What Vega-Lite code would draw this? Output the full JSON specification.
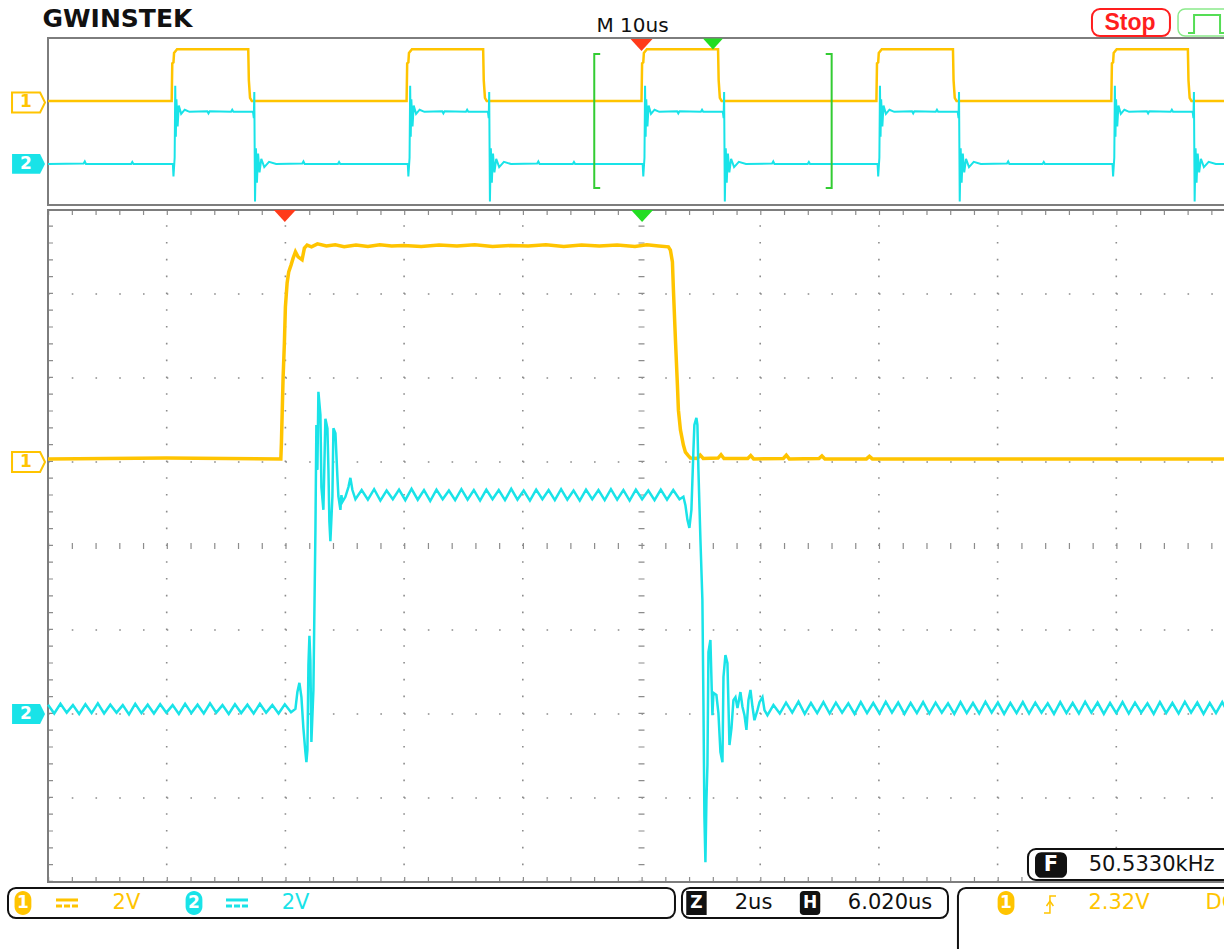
{
"$schema": "https://vega.github.io/schema/vega-lite/v6.json",
"width": 1224, "height": 949, "autosize": {"type": "none"}, "padding": 0, "background": "white",
"usermeta": {"embedOptions": {"actions": false}},
"config": {"view": {"stroke": null}},
"resolve": {"scale": {"x": "independent", "y": "independent"}},
"layer": [
{"data": {"values": [{"g":1},{"g":2},{"g":3},{"g":4},{"g":6},{"g":7},{"g":8},{"g":9}]},
 "mark": {"type": "rule", "color": "#8c8c8c", "strokeWidth": 1.6, "strokeDash": [1.6, 15.2]},
 "encoding": {"x": {"field": "g", "type": "quantitative", "scale": {"domain": [0,10], "range": [48,1235], "nice": false, "zero": false}, "axis": null},
  "y": {"datum": 0, "type": "quantitative", "scale": {"domain": [0,8], "range": [882,210], "nice": false, "zero": false}, "axis": null}, "y2": {"datum": 8}}},
{"data": {"values": [{"g":1},{"g":2},{"g":3},{"g":5},{"g":6},{"g":7}]},
 "mark": {"type": "rule", "color": "#8c8c8c", "strokeWidth": 1.6, "strokeDash": [1.6, 22.14]},
 "encoding": {"y": {"field": "g", "type": "quantitative", "scale": {"domain": [0,8], "range": [882,210], "nice": false, "zero": false}, "axis": null},
  "x": {"datum": 0, "type": "quantitative", "scale": {"domain": [0,10], "range": [48,1235], "nice": false, "zero": false}, "axis": null}, "x2": {"datum": 10}}},
{"data": {"values": [{"g":5}]},
 "mark": {"type": "rule", "color": "#8c8c8c", "strokeWidth": 6, "strokeDash": [1.2, 15.6]},
 "encoding": {"x": {"field": "g", "type": "quantitative", "scale": {"domain": [0,10], "range": [48,1235], "nice": false, "zero": false}, "axis": null},
  "y": {"datum": 0, "type": "quantitative", "scale": {"domain": [0,8], "range": [882,210], "nice": false, "zero": false}, "axis": null}, "y2": {"datum": 8}}},
{"data": {"values": [{"g":4}]},
 "mark": {"type": "rule", "color": "#8c8c8c", "strokeWidth": 6, "strokeDash": [1.2, 22.54]},
 "encoding": {"y": {"field": "g", "type": "quantitative", "scale": {"domain": [0,8], "range": [882,210], "nice": false, "zero": false}, "axis": null},
  "x": {"datum": 0, "type": "quantitative", "scale": {"domain": [0,10], "range": [48,1235], "nice": false, "zero": false}, "axis": null}, "x2": {"datum": 10}}},
{"data": {"values": [{"g":0}]},
 "mark": {"type": "rule", "color": "#8c8c8c", "strokeWidth": 5, "xOffset": 2.5, "strokeDash": [1.2, 15.6]},
 "encoding": {"x": {"field": "g", "type": "quantitative", "scale": {"domain": [0,10], "range": [48,1235], "nice": false, "zero": false}, "axis": null},
  "y": {"datum": 0, "type": "quantitative", "scale": {"domain": [0,8], "range": [882,210], "nice": false, "zero": false}, "axis": null}, "y2": {"datum": 8}}},
{"data": {"values": [{"g":8}]},
 "mark": {"type": "rule", "color": "#8c8c8c", "strokeWidth": 5, "yOffset": 2.5, "strokeDash": [1.2, 22.54]},
 "encoding": {"y": {"field": "g", "type": "quantitative", "scale": {"domain": [0,8], "range": [882,210], "nice": false, "zero": false}, "axis": null},
  "x": {"datum": 0, "type": "quantitative", "scale": {"domain": [0,10], "range": [48,1235], "nice": false, "zero": false}, "axis": null}, "x2": {"datum": 10}}},
{"data": {"values": [{"g":0}]},
 "mark": {"type": "rule", "color": "#8c8c8c", "strokeWidth": 5, "yOffset": -2.5, "strokeDash": [1.2, 22.54]},
 "encoding": {"y": {"field": "g", "type": "quantitative", "scale": {"domain": [0,8], "range": [882,210], "nice": false, "zero": false}, "axis": null},
  "x": {"datum": 0, "type": "quantitative", "scale": {"domain": [0,10], "range": [48,1235], "nice": false, "zero": false}, "axis": null}, "x2": {"datum": 10}}},
{"data": {"values": [{}]},
 "mark": {"type": "rect", "fill": "white", "fillOpacity": 0, "stroke": "#7d7d7d", "strokeWidth": 2},
 "encoding": {"x": {"datum": 0, "type": "quantitative", "scale": {"domain": [0,10], "range": [48,1235], "nice": false, "zero": false}, "axis": null}, "x2": {"datum": 10},
  "y": {"datum": 0, "type": "quantitative", "scale": {"domain": [0,8], "range": [882,210], "nice": false, "zero": false}, "axis": null}, "y2": {"datum": 8}}},
{"data": {"values": [{}]},
 "mark": {"type": "rect", "fill": "white", "fillOpacity": 0, "stroke": "#7d7d7d", "strokeWidth": 2},
 "encoding": {"x": {"datum": 0, "type": "quantitative", "scale": {"domain": [0,10], "range": [48,1235], "nice": false, "zero": false}, "axis": null}, "x2": {"datum": 10},
  "y": {"datum": 0, "type": "quantitative", "scale": {"domain": [0,8], "range": [205,38], "nice": false, "zero": false}, "axis": null}, "y2": {"datum": 8}}},
{"data": {"values": [
 {"t":-50,"v":0},
 {"t":-39.58,"v":0},{"t":-39.53,"v":3.6},{"t":-39.43,"v":3.7},{"t":-39.38,"v":4.6},{"t":-39.13,"v":4.95},{"t":-33.13,"v":4.95},{"t":-33.08,"v":2.0},{"t":-32.98,"v":0.3},{"t":-32.83,"v":0},
 {"t":-19.79,"v":0},{"t":-19.74,"v":3.6},{"t":-19.64,"v":3.7},{"t":-19.59,"v":4.6},{"t":-19.34,"v":4.95},{"t":-13.34,"v":4.95},{"t":-13.29,"v":2.0},{"t":-13.19,"v":0.3},{"t":-13.04,"v":0},
 {"t":0,"v":0},{"t":0.05,"v":3.6},{"t":0.15,"v":3.7},{"t":0.2,"v":4.6},{"t":0.45,"v":4.95},{"t":6.45,"v":4.95},{"t":6.5,"v":2.0},{"t":6.6,"v":0.3},{"t":6.75,"v":0},
 {"t":19.79,"v":0},{"t":19.84,"v":3.6},{"t":19.94,"v":3.7},{"t":19.99,"v":4.6},{"t":20.24,"v":4.95},{"t":26.24,"v":4.95},{"t":26.29,"v":2.0},{"t":26.39,"v":0.3},{"t":26.54,"v":0},
 {"t":39.58,"v":0},{"t":39.63,"v":3.6},{"t":39.73,"v":3.7},{"t":39.78,"v":4.6},{"t":40.03,"v":4.95},{"t":46.03,"v":4.95},{"t":46.08,"v":2.0},{"t":46.18,"v":0.3},{"t":46.33,"v":0},
 {"t":49.2,"v":0}]},
 "mark": {"type": "line", "color": "#FFC400", "strokeWidth": 2.5},
 "encoding": {"x": {"field": "t", "type": "quantitative", "scale": {"domain": [-50,50], "range": [48,1235], "nice": false, "zero": false}, "axis": null},
  "y": {"field": "v", "type": "quantitative", "scale": {"domain": [0,5], "range": [101,48.8], "nice": false, "zero": false}, "axis": null}}},
{"data": {"values": [
 {"t":-50,"v":0},{"t":-47,"v":0.05},{"t":-46.9,"v":0.25},{"t":-46.8,"v":0},{"t":-43,"v":0},{"t":-42.9,"v":0.2},{"t":-42.8,"v":0},
 {"t":-39.48,"v":0},{"t":-39.43,"v":-1.2},{"t":-39.33,"v":0.6},{"t":-39.28,"v":7.5},{"t":-39.23,"v":2.6},{"t":-39.18,"v":6.2},{"t":-39.08,"v":3.6},{"t":-38.98,"v":5.6},{"t":-38.78,"v":4.8},{"t":-38.48,"v":5.2},{"t":-38.08,"v":5.0},{"t":-36.58,"v":5.05},{"t":-36.48,"v":4.85},{"t":-36.38,"v":5.05},{"t":-34.58,"v":5.0},{"t":-34.48,"v":5.2},{"t":-34.38,"v":5.0},{"t":-32.73,"v":5.0},{"t":-32.66,"v":4.4},{"t":-32.62,"v":6.9},{"t":-32.56,"v":-3.6},{"t":-32.48,"v":1.5},{"t":-32.40,"v":-1.8},{"t":-32.30,"v":1.0},{"t":-32.18,"v":-0.8},{"t":-32.03,"v":0.5},{"t":-31.78,"v":-0.3},{"t":-31.38,"v":0.2},{"t":-30.78,"v":0},{"t":-28.58,"v":0.05},{"t":-28.48,"v":0.25},{"t":-28.38,"v":0},{"t":-25.58,"v":0},{"t":-25.48,"v":0.2},{"t":-25.38,"v":0},{"t":-22.08,"v":0},
 {"t":-19.69,"v":0},{"t":-19.64,"v":-1.2},{"t":-19.54,"v":0.6},{"t":-19.49,"v":7.5},{"t":-19.44,"v":2.6},{"t":-19.39,"v":6.2},{"t":-19.29,"v":3.6},{"t":-19.19,"v":5.6},{"t":-18.99,"v":4.8},{"t":-18.69,"v":5.2},{"t":-18.29,"v":5.0},{"t":-16.79,"v":5.05},{"t":-16.69,"v":4.85},{"t":-16.59,"v":5.05},{"t":-14.79,"v":5.0},{"t":-14.69,"v":5.2},{"t":-14.59,"v":5.0},{"t":-12.94,"v":5.0},{"t":-12.87,"v":4.4},{"t":-12.83,"v":6.9},{"t":-12.77,"v":-3.6},{"t":-12.69,"v":1.5},{"t":-12.61,"v":-1.8},{"t":-12.51,"v":1.0},{"t":-12.39,"v":-0.8},{"t":-12.24,"v":0.5},{"t":-11.99,"v":-0.3},{"t":-11.59,"v":0.2},{"t":-10.99,"v":0},{"t":-8.79,"v":0.05},{"t":-8.69,"v":0.25},{"t":-8.59,"v":0},{"t":-5.79,"v":0},{"t":-5.69,"v":0.2},{"t":-5.59,"v":0},{"t":-2.29,"v":0},
 {"t":0.10,"v":0},{"t":0.15,"v":-1.2},{"t":0.25,"v":0.6},{"t":0.30,"v":7.5},{"t":0.35,"v":2.6},{"t":0.40,"v":6.2},{"t":0.50,"v":3.6},{"t":0.60,"v":5.6},{"t":0.80,"v":4.8},{"t":1.10,"v":5.2},{"t":1.50,"v":5.0},{"t":3.00,"v":5.05},{"t":3.10,"v":4.85},{"t":3.20,"v":5.05},{"t":5.00,"v":5.0},{"t":5.10,"v":5.2},{"t":5.20,"v":5.0},{"t":6.85,"v":5.0},{"t":6.92,"v":4.4},{"t":6.96,"v":6.9},{"t":7.02,"v":-3.6},{"t":7.10,"v":1.5},{"t":7.18,"v":-1.8},{"t":7.28,"v":1.0},{"t":7.40,"v":-0.8},{"t":7.55,"v":0.5},{"t":7.80,"v":-0.3},{"t":8.20,"v":0.2},{"t":8.80,"v":0},{"t":11.0,"v":0.05},{"t":11.1,"v":0.25},{"t":11.2,"v":0},{"t":14.0,"v":0},{"t":14.1,"v":0.2},{"t":14.2,"v":0},{"t":17.5,"v":0},
 {"t":19.89,"v":0},{"t":19.94,"v":-1.2},{"t":20.04,"v":0.6},{"t":20.09,"v":7.5},{"t":20.14,"v":2.6},{"t":20.19,"v":6.2},{"t":20.29,"v":3.6},{"t":20.39,"v":5.6},{"t":20.59,"v":4.8},{"t":20.89,"v":5.2},{"t":21.29,"v":5.0},{"t":22.79,"v":5.05},{"t":22.89,"v":4.85},{"t":22.99,"v":5.05},{"t":24.79,"v":5.0},{"t":24.89,"v":5.2},{"t":24.99,"v":5.0},{"t":26.64,"v":5.0},{"t":26.71,"v":4.4},{"t":26.75,"v":6.9},{"t":26.81,"v":-3.6},{"t":26.89,"v":1.5},{"t":26.97,"v":-1.8},{"t":27.07,"v":1.0},{"t":27.19,"v":-0.8},{"t":27.34,"v":0.5},{"t":27.59,"v":-0.3},{"t":27.99,"v":0.2},{"t":28.59,"v":0},{"t":30.79,"v":0.05},{"t":30.89,"v":0.25},{"t":30.99,"v":0},{"t":33.79,"v":0},{"t":33.89,"v":0.2},{"t":33.99,"v":0},{"t":37.29,"v":0},
 {"t":39.68,"v":0},{"t":39.73,"v":-1.2},{"t":39.83,"v":0.6},{"t":39.88,"v":7.5},{"t":39.93,"v":2.6},{"t":39.98,"v":6.2},{"t":40.08,"v":3.6},{"t":40.18,"v":5.6},{"t":40.38,"v":4.8},{"t":40.68,"v":5.2},{"t":41.08,"v":5.0},{"t":42.58,"v":5.05},{"t":42.68,"v":4.85},{"t":42.78,"v":5.05},{"t":44.58,"v":5.0},{"t":44.68,"v":5.2},{"t":44.78,"v":5.0},{"t":46.43,"v":5.0},{"t":46.50,"v":4.4},{"t":46.54,"v":6.9},{"t":46.60,"v":-3.6},{"t":46.68,"v":1.5},{"t":46.76,"v":-1.8},{"t":46.86,"v":1.0},{"t":46.98,"v":-0.8},{"t":47.13,"v":0.5},{"t":47.38,"v":-0.3},{"t":47.78,"v":0.2},{"t":48.38,"v":0},{"t":49.2,"v":0}]},
 "mark": {"type": "line", "color": "#19E3E8", "strokeWidth": 2},
 "encoding": {"x": {"field": "t", "type": "quantitative", "scale": {"domain": [-50,50], "range": [48,1235], "nice": false, "zero": false}, "axis": null},
  "y": {"field": "v", "type": "quantitative", "scale": {"domain": [0,5], "range": [164,111.8], "nice": false, "zero": false}, "axis": null}}},
{"data": {"values": [
 {"seg":"L","o":1,"x":-3.48,"y":7.23},{"seg":"L","o":2,"x":-3.98,"y":7.23},{"seg":"L","o":3,"x":-3.98,"y":0.81},{"seg":"L","o":4,"x":-3.48,"y":0.81},
 {"seg":"R","o":1,"x":15.52,"y":7.23},{"seg":"R","o":2,"x":16.02,"y":7.23},{"seg":"R","o":3,"x":16.02,"y":0.81},{"seg":"R","o":4,"x":15.52,"y":0.81}]},
 "mark": {"type": "line", "color": "#33CC33", "strokeWidth": 2},
 "encoding": {"x": {"field": "x", "type": "quantitative", "scale": {"domain": [-50,50], "range": [48,1235], "nice": false, "zero": false}, "axis": null},
  "y": {"field": "y", "type": "quantitative", "scale": {"domain": [0,8], "range": [205,38], "nice": false, "zero": false}, "axis": null},
  "detail": {"field": "seg"}, "order": {"field": "o"}}},
{"data": {"values": [
 {"t":-3.99,"v":0.05},{"t":-2.0,"v":0.07},{"t":-0.067,"v":0.05},
 {"t":-0.057,"v":0.43},{"t":-0.029,"v":1.98},{"t":-0.007,"v":2.81},{"t":0.010,"v":3.67},{"t":0.039,"v":4.24},{"t":0.066,"v":4.50},{"t":0.106,"v":4.67},{"t":0.140,"v":4.83},{"t":0.179,"v":4.98},{"t":0.224,"v":4.86},{"t":0.291,"v":4.79},{"t":0.330,"v":5.07},{"t":0.376,"v":5.14},
 {"t":0.45,"v":5.10},{"t":0.55,"v":5.17},{"t":0.70,"v":5.12},{"t":0.85,"v":5.15},{"t":1.0,"v":5.10},{"t":1.2,"v":5.14},{"t":1.4,"v":5.11},{"t":1.6,"v":5.15},{"t":1.8,"v":5.12},{"t":2.0,"v":5.13},{"t":2.3,"v":5.11},{"t":2.6,"v":5.14},{"t":2.9,"v":5.12},{"t":3.2,"v":5.15},{"t":3.5,"v":5.11},{"t":3.8,"v":5.13},{"t":4.1,"v":5.12},{"t":4.4,"v":5.15},{"t":4.7,"v":5.11},{"t":5.0,"v":5.14},{"t":5.3,"v":5.12},{"t":5.6,"v":5.14},{"t":5.9,"v":5.11},{"t":6.1,"v":5.15},{"t":6.3,"v":5.12},{"t":6.463,"v":5.10},
 {"t":6.497,"v":5.02},{"t":6.531,"v":4.74},{"t":6.548,"v":4.07},{"t":6.582,"v":2.88},{"t":6.615,"v":1.81},{"t":6.632,"v":1.21},{"t":6.666,"v":0.74},{"t":6.716,"v":0.38},{"t":6.750,"v":0.21},{"t":6.801,"v":0.12},{"t":6.834,"v":0.07},
 {"t":6.95,"v":0.06},{"t":7.0,"v":0.14},{"t":7.05,"v":0.06},{"t":7.3,"v":0.07},{"t":7.35,"v":0.15},{"t":7.4,"v":0.06},{"t":7.8,"v":0.06},{"t":7.85,"v":0.13},{"t":7.9,"v":0.05},{"t":8.4,"v":0.06},{"t":8.45,"v":0.14},{"t":8.5,"v":0.05},{"t":9.0,"v":0.06},{"t":9.05,"v":0.12},{"t":9.1,"v":0.05},{"t":9.8,"v":0.05},{"t":9.85,"v":0.11},{"t":9.9,"v":0.05},{"t":16.02,"v":0.05}]},
 "mark": {"type": "line", "color": "#FFC400", "strokeWidth": 3.5},
 "encoding": {"x": {"field": "t", "type": "quantitative", "scale": {"domain": [-3.99,16.01], "range": [48,1235], "nice": false, "zero": false}, "axis": null},
  "y": {"field": "v", "type": "quantitative", "scale": {"domain": [0,2], "range": [461,377], "nice": false, "zero": false}, "axis": null}}},
{"data": {"values": [
 {"t":-3.99,"v":0.21},{"t":-3.885,"v":0.0},{"t":-3.78,"v":0.23},{"t":-3.675,"v":0.02},{"t":-3.57,"v":0.2},{"t":-3.465,"v":-0.01},{"t":-3.36,"v":0.22},{"t":-3.255,"v":0.01},{"t":-3.15,"v":0.24},{"t":-3.045,"v":0.0},
 {"t":-2.94,"v":0.21},{"t":-2.835,"v":0.02},{"t":-2.73,"v":0.2},{"t":-2.625,"v":-0.02},{"t":-2.52,"v":0.23},{"t":-2.415,"v":0.01},{"t":-2.31,"v":0.21},{"t":-2.205,"v":0.0},{"t":-2.1,"v":0.22},{"t":-1.995,"v":0.02},
 {"t":-1.89,"v":0.2},{"t":-1.785,"v":-0.01},{"t":-1.68,"v":0.23},{"t":-1.575,"v":0.01},{"t":-1.47,"v":0.21},{"t":-1.365,"v":0.0},{"t":-1.26,"v":0.24},{"t":-1.155,"v":0.02},{"t":-1.05,"v":0.2},{"t":-0.945,"v":-0.01},
 {"t":-0.84,"v":0.22},{"t":-0.735,"v":0.01},{"t":-0.63,"v":0.21},{"t":-0.525,"v":0.0},{"t":-0.42,"v":0.23},{"t":-0.315,"v":0.02},{"t":-0.21,"v":0.2},{"t":-0.105,"v":0.0},{"t":0.0,"v":0.22},{"t":0.105,"v":0.03},
 {"t":0.179,"v":0.11},{"t":0.212,"v":0.51},{"t":0.246,"v":0.73},{"t":0.280,"v":0.39},{"t":0.313,"v":-0.35},{"t":0.347,"v":-0.92},{"t":0.364,"v":-1.16},{"t":0.381,"v":-0.87},{"t":0.398,"v":1.16},{"t":0.415,"v":1.85},{"t":0.431,"v":1.27},{"t":0.448,"v":-0.68},{"t":0.482,"v":0.56},{"t":0.516,"v":4.37},{"t":0.532,"v":6.87},{"t":0.549,"v":5.8},{"t":0.566,"v":7.66},{"t":0.600,"v":7.11},{"t":0.617,"v":5.39},{"t":0.650,"v":4.85},{"t":0.684,"v":7.02},{"t":0.718,"v":6.79},{"t":0.735,"v":5.81},{"t":0.751,"v":4.57},{"t":0.768,"v":4.1},{"t":0.802,"v":5.17},{"t":0.819,"v":6.79},{"t":0.853,"v":6.67},{"t":0.886,"v":5.64},{"t":0.903,"v":5.17},{"t":0.937,"v":4.85},{"t":0.954,"v":5.2},{"t":0.971,"v":5.04},{"t":1.021,"v":5.16},{"t":1.072,"v":5.39},{"t":1.105,"v":5.61},{"t":1.139,"v":5.32},{"t":1.19,"v":5.1},
 {"t":1.295,"v":5.32},{"t":1.4,"v":5.09},{"t":1.505,"v":5.34},{"t":1.61,"v":5.07},{"t":1.715,"v":5.31},{"t":1.82,"v":5.1},{"t":1.925,"v":5.33},{"t":2.03,"v":5.08},{"t":2.135,"v":5.35},{"t":2.24,"v":5.09},
 {"t":2.345,"v":5.32},{"t":2.45,"v":5.06},{"t":2.555,"v":5.33},{"t":2.66,"v":5.1},{"t":2.765,"v":5.31},{"t":2.87,"v":5.08},{"t":2.975,"v":5.34},{"t":3.08,"v":5.09},{"t":3.185,"v":5.32},{"t":3.29,"v":5.07},
 {"t":3.395,"v":5.33},{"t":3.5,"v":5.1},{"t":3.605,"v":5.32},{"t":3.71,"v":5.08},{"t":3.815,"v":5.35},{"t":3.92,"v":5.09},{"t":4.025,"v":5.31},{"t":4.13,"v":5.07},{"t":4.235,"v":5.33},{"t":4.34,"v":5.1},
 {"t":4.445,"v":5.32},{"t":4.55,"v":5.08},{"t":4.655,"v":5.34},{"t":4.76,"v":5.09},{"t":4.865,"v":5.31},{"t":4.97,"v":5.07},{"t":5.075,"v":5.33},{"t":5.18,"v":5.1},{"t":5.285,"v":5.32},{"t":5.39,"v":5.08},
 {"t":5.495,"v":5.34},{"t":5.6,"v":5.09},{"t":5.705,"v":5.32},{"t":5.81,"v":5.07},{"t":5.915,"v":5.33},{"t":6.02,"v":5.1},{"t":6.125,"v":5.31},{"t":6.23,"v":5.08},{"t":6.335,"v":5.33},{"t":6.44,"v":5.09},{"t":6.545,"v":5.32},{"t":6.65,"v":5.1},
 {"t":6.716,"v":5.16},{"t":6.75,"v":4.96},{"t":6.784,"v":4.61},{"t":6.817,"v":4.42},{"t":6.851,"v":4.85},{"t":6.885,"v":6.27},{"t":6.901,"v":6.87},{"t":6.935,"v":7.04},{"t":6.952,"v":6.87},{"t":6.969,"v":5.8},{"t":7.003,"v":4.13},{"t":7.036,"v":2.7},{"t":7.053,"v":0.32},{"t":7.07,"v":-2.46},{"t":7.087,"v":-3.54},{"t":7.104,"v":-2.06},{"t":7.121,"v":-1.23},{"t":7.138,"v":1.46},{"t":7.171,"v":1.75},{"t":7.205,"v":-0.04},{"t":7.222,"v":0.49},{"t":7.272,"v":0.44},{"t":7.306,"v":0.01},{"t":7.34,"v":-0.92},{"t":7.374,"v":-1.16},{"t":7.391,"v":0.87},{"t":7.424,"v":1.39},{"t":7.458,"v":1.2},{"t":7.492,"v":-0.75},{"t":7.526,"v":-0.35},{"t":7.559,"v":0.32},{"t":7.593,"v":0.39},{"t":7.627,"v":0.13},{"t":7.677,"v":0.51},{"t":7.711,"v":0.16},{"t":7.745,"v":-0.04},{"t":7.778,"v":-0.39},{"t":7.812,"v":0.32},{"t":7.846,"v":0.56},{"t":7.88,"v":0.16},{"t":7.913,"v":-0.16},{"t":7.964,"v":0.08},{"t":7.998,"v":0.27},{"t":8.048,"v":0.39},{"t":8.082,"v":0.08},{"t":8.132,"v":-0.04},{"t":8.183,"v":0.08},{"t":8.233,"v":0.2},
 {"t":8.34,"v":0.0},{"t":8.445,"v":0.26},{"t":8.55,"v":0.02},{"t":8.655,"v":0.28},{"t":8.76,"v":-0.01},{"t":8.865,"v":0.25},{"t":8.97,"v":0.01},{"t":9.075,"v":0.27},{"t":9.18,"v":0.0},{"t":9.285,"v":0.26},
 {"t":9.39,"v":0.02},{"t":9.495,"v":0.24},{"t":9.6,"v":-0.01},{"t":9.705,"v":0.27},{"t":9.81,"v":0.01},{"t":9.915,"v":0.25},{"t":10.02,"v":0.0},{"t":10.125,"v":0.28},{"t":10.23,"v":0.02},{"t":10.335,"v":0.26},
 {"t":10.44,"v":-0.01},{"t":10.545,"v":0.25},{"t":10.65,"v":0.01},{"t":10.755,"v":0.27},{"t":10.86,"v":0.0},{"t":10.965,"v":0.26},{"t":11.07,"v":0.02},{"t":11.175,"v":0.24},{"t":11.28,"v":-0.01},{"t":11.385,"v":0.27},
 {"t":11.49,"v":0.01},{"t":11.595,"v":0.25},{"t":11.7,"v":0.0},{"t":11.805,"v":0.28},{"t":11.91,"v":0.02},{"t":12.015,"v":0.26},{"t":12.12,"v":-0.01},{"t":12.225,"v":0.25},{"t":12.33,"v":0.01},{"t":12.435,"v":0.27},
 {"t":12.54,"v":0.0},{"t":12.645,"v":0.26},{"t":12.75,"v":0.02},{"t":12.855,"v":0.24},{"t":12.96,"v":-0.01},{"t":13.065,"v":0.27},{"t":13.17,"v":0.01},{"t":13.275,"v":0.25},{"t":13.38,"v":0.0},{"t":13.485,"v":0.28},
 {"t":13.59,"v":0.02},{"t":13.695,"v":0.26},{"t":13.8,"v":-0.01},{"t":13.905,"v":0.25},{"t":14.01,"v":0.01},{"t":14.115,"v":0.27},{"t":14.22,"v":0.0},{"t":14.325,"v":0.26},{"t":14.43,"v":0.02},{"t":14.535,"v":0.24},
 {"t":14.64,"v":-0.01},{"t":14.745,"v":0.27},{"t":14.85,"v":0.01},{"t":14.955,"v":0.25},{"t":15.06,"v":0.0},{"t":15.165,"v":0.28},{"t":15.27,"v":0.02},{"t":15.375,"v":0.26},{"t":15.48,"v":-0.01},{"t":15.585,"v":0.25},
 {"t":15.69,"v":0.01},{"t":15.795,"v":0.27},{"t":15.9,"v":0.0},{"t":16.005,"v":0.26}]},
 "mark": {"type": "line", "color": "#19E3E8", "strokeWidth": 2.5},
 "encoding": {"x": {"field": "t", "type": "quantitative", "scale": {"domain": [-3.99,16.01], "range": [48,1235], "nice": false, "zero": false}, "axis": null},
  "y": {"field": "v", "type": "quantitative", "scale": {"domain": [0,2], "range": [713.5,629.5], "nice": false, "zero": false}, "axis": null}}},
{"data": {"values": [{"t":0}]},
 "mark": {"type": "point", "shape": "M-1,-0.55L1,-0.55L0,0.55Z", "size": 484, "filled": true, "opacity": 1, "color": "#FF3A1A", "strokeWidth": 0, "yOffset": 6},
 "encoding": {"x": {"field": "t", "type": "quantitative", "scale": {"domain": [-3.99,16.01], "range": [48,1235], "nice": false, "zero": false}, "axis": null},
  "y": {"datum": 8, "type": "quantitative", "scale": {"domain": [0,8], "range": [882,210], "nice": false, "zero": false}, "axis": null}}},
{"data": {"values": [{"t":6.02}]},
 "mark": {"type": "point", "shape": "M-1,-0.55L1,-0.55L0,0.55Z", "size": 484, "filled": true, "opacity": 1, "color": "#22DD22", "strokeWidth": 0, "yOffset": 6},
 "encoding": {"x": {"field": "t", "type": "quantitative", "scale": {"domain": [-3.99,16.01], "range": [48,1235], "nice": false, "zero": false}, "axis": null},
  "y": {"datum": 8, "type": "quantitative", "scale": {"domain": [0,8], "range": [882,210], "nice": false, "zero": false}, "axis": null}}},
{"data": {"values": [{"t":0}]},
 "mark": {"type": "point", "shape": "M-1,-0.55L1,-0.55L0,0.55Z", "size": 484, "filled": true, "opacity": 1, "color": "#FF3A1A", "strokeWidth": 0, "yOffset": 7},
 "encoding": {"x": {"field": "t", "type": "quantitative", "scale": {"domain": [-50,50], "range": [48,1235], "nice": false, "zero": false}, "axis": null},
  "y": {"datum": 8, "type": "quantitative", "scale": {"domain": [0,8], "range": [205,38], "nice": false, "zero": false}, "axis": null}}},
{"data": {"values": [{"t":6.02}]},
 "mark": {"type": "point", "shape": "M-1,-0.55L1,-0.55L0,0.55Z", "size": 400, "filled": true, "opacity": 1, "color": "#22DD22", "strokeWidth": 0, "yOffset": 6},
 "encoding": {"x": {"field": "t", "type": "quantitative", "scale": {"domain": [-50,50], "range": [48,1235], "nice": false, "zero": false}, "axis": null},
  "y": {"datum": 8, "type": "quantitative", "scale": {"domain": [0,8], "range": [205,38], "nice": false, "zero": false}, "axis": null}}},
{"data": {"values": [{"gx":-0.164,"gy":5.0},{"gx":-0.164,"gy":9.28}]},
 "mark": {"type": "point", "shape": "M-1,-0.6L0.7,-0.6L1,0L0.7,0.6L-1,0.6Z", "size": 1089, "filled": true, "opacity": 1, "fill": "white", "stroke": "#FFC400", "strokeWidth": 2},
 "encoding": {"x": {"field": "gx", "type": "quantitative", "scale": {"domain": [0,10], "range": [48,1235], "nice": false, "zero": false}, "axis": null},
  "y": {"field": "gy", "type": "quantitative", "scale": {"domain": [0,8], "range": [882,210], "nice": false, "zero": false}, "axis": null}}},
{"data": {"values": [{"gx":-0.164,"gy":2.0},{"gx":-0.164,"gy":8.548}]},
 "mark": {"type": "point", "shape": "M-1,-0.6L0.7,-0.6L1,0L0.7,0.6L-1,0.6Z", "size": 1089, "filled": true, "opacity": 1, "color": "#19E3E8", "strokeWidth": 0},
 "encoding": {"x": {"field": "gx", "type": "quantitative", "scale": {"domain": [0,10], "range": [48,1235], "nice": false, "zero": false}, "axis": null},
  "y": {"field": "gy", "type": "quantitative", "scale": {"domain": [0,8], "range": [882,210], "nice": false, "zero": false}, "axis": null}}},
{"data": {"values": [{"x1":-0.337,"x2":5.282,"y1":-0.071,"y2":-0.429},{"x1":5.341,"x2":7.582,"y1":-0.071,"y2":-0.429},{"x1":7.666,"x2":10.2,"y1":-0.071,"y2":-1.0},{"x1":8.256,"x2":10.2,"y1":0.393,"y2":0.024}]},
 "mark": {"type": "rect", "fill": "white", "stroke": "#111111", "strokeWidth": 2, "cornerRadius": 8},
 "encoding": {"x": {"field": "x1", "type": "quantitative", "scale": {"domain": [0,10], "range": [48,1235], "nice": false, "zero": false}, "axis": null}, "x2": {"field": "x2"},
  "y": {"field": "y1", "type": "quantitative", "scale": {"domain": [0,8], "range": [882,210], "nice": false, "zero": false}, "axis": null}, "y2": {"field": "y2"}}},
{"data": {"values": [{"x1":8.795,"x2":9.452,"y1":10.393,"y2":10.071}]},
 "mark": {"type": "rect", "fill": "white", "stroke": "#FF1E1E", "strokeWidth": 2, "cornerRadius": 8},
 "encoding": {"x": {"field": "x1", "type": "quantitative", "scale": {"domain": [0,10], "range": [48,1235], "nice": false, "zero": false}, "axis": null}, "x2": {"field": "x2"},
  "y": {"field": "y1", "type": "quantitative", "scale": {"domain": [0,8], "range": [882,210], "nice": false, "zero": false}, "axis": null}, "y2": {"field": "y2"}}},
{"data": {"values": [{"x1":9.52,"x2":10.1,"y1":10.393,"y2":10.071}]},
 "mark": {"type": "rect", "fill": "white", "stroke": "#8BEA8B", "strokeWidth": 1.5, "cornerRadius": 7},
 "encoding": {"x": {"field": "x1", "type": "quantitative", "scale": {"domain": [0,10], "range": [48,1235], "nice": false, "zero": false}, "axis": null}, "x2": {"field": "x2"},
  "y": {"field": "y1", "type": "quantitative", "scale": {"domain": [0,8], "range": [882,210], "nice": false, "zero": false}, "axis": null}, "y2": {"field": "y2"}}},
{"data": {"values": [{"o":1,"gx":9.604,"gy":10.107},{"o":2,"gx":9.655,"gy":10.107},{"o":3,"gx":9.655,"gy":10.321},{"o":4,"gx":9.874,"gy":10.321},{"o":5,"gx":9.874,"gy":10.107},{"o":6,"gx":9.96,"gy":10.107}]},
 "mark": {"type": "line", "color": "#55DD55", "strokeWidth": 2},
 "encoding": {"x": {"field": "gx", "type": "quantitative", "scale": {"domain": [0,10], "range": [48,1235], "nice": false, "zero": false}, "axis": null},
  "y": {"field": "gy", "type": "quantitative", "scale": {"domain": [0,8], "range": [882,210], "nice": false, "zero": false}, "axis": null}, "order": {"field": "o"}}},
{"data": {"values": [{"gx":-0.211,"gy":-0.25},{"gx":8.071,"gy":-0.25}]},
 "mark": {"type": "point", "shape": "M-0.7,-0.3A0.7,0.7,0,0,1,0.7,-0.3L0.7,0.3A0.7,0.7,0,0,1,-0.7,0.3Z", "size": 576, "filled": true, "opacity": 1, "color": "#FFC400", "strokeWidth": 0},
 "encoding": {"x": {"field": "gx", "type": "quantitative", "scale": {"domain": [0,10], "range": [48,1235], "nice": false, "zero": false}, "axis": null},
  "y": {"field": "gy", "type": "quantitative", "scale": {"domain": [0,8], "range": [882,210], "nice": false, "zero": false}, "axis": null}}},
{"data": {"values": [{"gx":1.23,"gy":-0.25}]},
 "mark": {"type": "point", "shape": "M-0.7,-0.3A0.7,0.7,0,0,1,0.7,-0.3L0.7,0.3A0.7,0.7,0,0,1,-0.7,0.3Z", "size": 576, "filled": true, "opacity": 1, "color": "#19E3E8", "strokeWidth": 0},
 "encoding": {"x": {"field": "gx", "type": "quantitative", "scale": {"domain": [0,10], "range": [48,1235], "nice": false, "zero": false}, "axis": null},
  "y": {"field": "gy", "type": "quantitative", "scale": {"domain": [0,8], "range": [882,210], "nice": false, "zero": false}, "axis": null}}},
{"data": {"values": [{"gx":5.463,"gy":-0.25}]},
 "mark": {"type": "point", "shape": "M-0.85,-1L0.85,-1L0.85,1L-0.85,1Z", "size": 576, "filled": true, "opacity": 1, "color": "#111111", "strokeWidth": 0},
 "encoding": {"x": {"field": "gx", "type": "quantitative", "scale": {"domain": [0,10], "range": [48,1235], "nice": false, "zero": false}, "axis": null},
  "y": {"field": "gy", "type": "quantitative", "scale": {"domain": [0,8], "range": [882,210], "nice": false, "zero": false}, "axis": null}}},
{"data": {"values": [{"gx":6.42,"gy":-0.25}]},
 "mark": {"type": "point", "shape": "M-0.55,-1L0.55,-1A0.3,0.3,0,0,1,0.85,-0.7L0.85,0.7A0.3,0.3,0,0,1,0.55,1L-0.55,1A0.3,0.3,0,0,1,-0.85,0.7L-0.85,-0.7A0.3,0.3,0,0,1,-0.55,-1Z", "size": 576, "filled": true, "opacity": 1, "color": "#111111", "strokeWidth": 0},
 "encoding": {"x": {"field": "gx", "type": "quantitative", "scale": {"domain": [0,10], "range": [48,1235], "nice": false, "zero": false}, "axis": null},
  "y": {"field": "gy", "type": "quantitative", "scale": {"domain": [0,8], "range": [882,210], "nice": false, "zero": false}, "axis": null}}},
{"data": {"values": [{"gx":8.45,"gy":0.202}]},
 "mark": {"type": "point", "shape": "M-0.6,-0.8L0.6,-0.8A0.4,0.4,0,0,1,1,-0.4L1,0.4A0.4,0.4,0,0,1,0.6,0.8L-0.6,0.8A0.4,0.4,0,0,1,-1,0.4L-1,-0.4A0.4,0.4,0,0,1,-0.6,-0.8Z", "size": 1024, "filled": true, "opacity": 1, "color": "#111111", "strokeWidth": 0},
 "encoding": {"x": {"field": "gx", "type": "quantitative", "scale": {"domain": [0,10], "range": [48,1235], "nice": false, "zero": false}, "axis": null},
  "y": {"field": "gy", "type": "quantitative", "scale": {"domain": [0,8], "range": [882,210], "nice": false, "zero": false}, "axis": null}}},
{"data": {"values": [{"x1":0.0674,"x2":0.2527,"y":-0.214}]},
 "mark": {"type": "rule", "color": "#FFC400", "strokeWidth": 3},
 "encoding": {"x": {"field": "x1", "type": "quantitative", "scale": {"domain": [0,10], "range": [48,1235], "nice": false, "zero": false}, "axis": null}, "x2": {"field": "x2"},
  "y": {"field": "y", "type": "quantitative", "scale": {"domain": [0,8], "range": [882,210], "nice": false, "zero": false}, "axis": null}}},
{"data": {"values": [{"x1":0.0674,"x2":0.2527,"y":-0.286}]},
 "mark": {"type": "rule", "color": "#FFC400", "strokeWidth": 3, "strokeDash": [6, 2]},
 "encoding": {"x": {"field": "x1", "type": "quantitative", "scale": {"domain": [0,10], "range": [48,1235], "nice": false, "zero": false}, "axis": null}, "x2": {"field": "x2"},
  "y": {"field": "y", "type": "quantitative", "scale": {"domain": [0,8], "range": [882,210], "nice": false, "zero": false}, "axis": null}}},
{"data": {"values": [{"x1":1.4996,"x2":1.6849,"y":-0.214}]},
 "mark": {"type": "rule", "color": "#19E3E8", "strokeWidth": 3},
 "encoding": {"x": {"field": "x1", "type": "quantitative", "scale": {"domain": [0,10], "range": [48,1235], "nice": false, "zero": false}, "axis": null}, "x2": {"field": "x2"},
  "y": {"field": "y", "type": "quantitative", "scale": {"domain": [0,8], "range": [882,210], "nice": false, "zero": false}, "axis": null}}},
{"data": {"values": [{"x1":1.4996,"x2":1.6849,"y":-0.286}]},
 "mark": {"type": "rule", "color": "#19E3E8", "strokeWidth": 3, "strokeDash": [6, 2]},
 "encoding": {"x": {"field": "x1", "type": "quantitative", "scale": {"domain": [0,10], "range": [48,1235], "nice": false, "zero": false}, "axis": null}, "x2": {"field": "x2"},
  "y": {"field": "y", "type": "quantitative", "scale": {"domain": [0,8], "range": [882,210], "nice": false, "zero": false}, "axis": null}}},
{"data": {"values": [{"seg":"a","o":1,"gx":8.391,"gy":-0.369},{"seg":"a","o":2,"gx":8.441,"gy":-0.369},{"seg":"a","o":3,"gx":8.441,"gy":-0.167},{"seg":"a","o":4,"gx":8.492,"gy":-0.167},
 {"seg":"b","o":1,"gx":8.412,"gy":-0.286},{"seg":"b","o":2,"gx":8.441,"gy":-0.226},{"seg":"b","o":3,"gx":8.470,"gy":-0.286}]},
 "mark": {"type": "line", "color": "#FFC400", "strokeWidth": 1.5},
 "encoding": {"x": {"field": "gx", "type": "quantitative", "scale": {"domain": [0,10], "range": [48,1235], "nice": false, "zero": false}, "axis": null},
  "y": {"field": "gy", "type": "quantitative", "scale": {"domain": [0,8], "range": [882,210], "nice": false, "zero": false}, "axis": null}, "detail": {"field": "seg"}, "order": {"field": "o"}}},
{"data": {"values": [{"s":"1","gx":-0.185,"gy":5.0},{"s":"1","gx":-0.185,"gy":9.28}]},
 "mark": {"type": "text", "color": "#FFC400", "font": "DejaVu Sans", "fontWeight": "bold", "fontSize": 17, "align": "center", "baseline": "middle"},
 "encoding": {"x": {"field": "gx", "type": "quantitative", "scale": {"domain": [0,10], "range": [48,1235], "nice": false, "zero": false}, "axis": null},
  "y": {"field": "gy", "type": "quantitative", "scale": {"domain": [0,8], "range": [882,210], "nice": false, "zero": false}, "axis": null}, "text": {"field": "s"}}},
{"data": {"values": [{"s":"2","gx":-0.185,"gy":2.0},{"s":"2","gx":-0.185,"gy":8.548},{"s":"1","gx":-0.211,"gy":-0.25},{"s":"2","gx":1.23,"gy":-0.25},{"s":"Z","gx":5.463,"gy":-0.25},{"s":"H","gx":6.42,"gy":-0.25},{"s":"1","gx":8.071,"gy":-0.25}]},
 "mark": {"type": "text", "color": "white", "font": "DejaVu Sans", "fontWeight": "bold", "fontSize": 17, "align": "center", "baseline": "middle"},
 "encoding": {"x": {"field": "gx", "type": "quantitative", "scale": {"domain": [0,10], "range": [48,1235], "nice": false, "zero": false}, "axis": null},
  "y": {"field": "gy", "type": "quantitative", "scale": {"domain": [0,8], "range": [882,210], "nice": false, "zero": false}, "axis": null}, "text": {"field": "s"}}},
{"data": {"values": [{"s":"F","gx":8.45,"gy":0.202}]},
 "mark": {"type": "text", "color": "white", "font": "DejaVu Sans", "fontWeight": "bold", "fontSize": 21, "align": "center", "baseline": "middle"},
 "encoding": {"x": {"field": "gx", "type": "quantitative", "scale": {"domain": [0,10], "range": [48,1235], "nice": false, "zero": false}, "axis": null},
  "y": {"field": "gy", "type": "quantitative", "scale": {"domain": [0,8], "range": [882,210], "nice": false, "zero": false}, "axis": null}, "text": {"field": "s"}}},
{"data": {"values": [{"s":"2V","gx":0.661,"gy":-0.25},{"s":"2.32V","gx":9.023,"gy":-0.25},{"s":"DC","gx":9.882,"gy":-0.25}]},
 "mark": {"type": "text", "color": "#FFC400", "font": "DejaVu Sans", "fontSize": 21, "align": "center", "baseline": "middle"},
 "encoding": {"x": {"field": "gx", "type": "quantitative", "scale": {"domain": [0,10], "range": [48,1235], "nice": false, "zero": false}, "axis": null},
  "y": {"field": "gy", "type": "quantitative", "scale": {"domain": [0,8], "range": [882,210], "nice": false, "zero": false}, "axis": null}, "text": {"field": "s"}}},
{"data": {"values": [{"s":"2V","gx":2.085,"gy":-0.25}]},
 "mark": {"type": "text", "color": "#19E3E8", "font": "DejaVu Sans", "fontSize": 21, "align": "center", "baseline": "middle"},
 "encoding": {"x": {"field": "gx", "type": "quantitative", "scale": {"domain": [0,10], "range": [48,1235], "nice": false, "zero": false}, "axis": null},
  "y": {"field": "gy", "type": "quantitative", "scale": {"domain": [0,8], "range": [882,210], "nice": false, "zero": false}, "axis": null}, "text": {"field": "s"}}},
{"data": {"values": [{"s":"2us","gx":5.944,"gy":-0.25},{"s":"6.020us","gx":7.094,"gy":-0.25},{"s":"50.5330kHz","gx":9.297,"gy":0.202}]},
 "mark": {"type": "text", "color": "#111111", "font": "DejaVu Sans", "fontSize": 21, "align": "center", "baseline": "middle"},
 "encoding": {"x": {"field": "gx", "type": "quantitative", "scale": {"domain": [0,10], "range": [48,1235], "nice": false, "zero": false}, "axis": null},
  "y": {"field": "gy", "type": "quantitative", "scale": {"domain": [0,8], "range": [882,210], "nice": false, "zero": false}, "axis": null}, "text": {"field": "s"}}},
{"data": {"values": [{"s":"GWINSTEK","gx":0.585,"gy":10.268}]},
 "mark": {"type": "text", "color": "#111111", "font": "DejaVu Sans", "fontWeight": "bold", "fontSize": 25, "align": "center", "baseline": "middle"},
 "encoding": {"x": {"field": "gx", "type": "quantitative", "scale": {"domain": [0,10], "range": [48,1235], "nice": false, "zero": false}, "axis": null},
  "y": {"field": "gy", "type": "quantitative", "scale": {"domain": [0,8], "range": [882,210], "nice": false, "zero": false}, "axis": null}, "text": {"field": "s"}}},
{"data": {"values": [{"s":"M 10us","gx":4.924,"gy":10.196}]},
 "mark": {"type": "text", "color": "#111111", "font": "DejaVu Sans", "fontSize": 20, "align": "center", "baseline": "middle"},
 "encoding": {"x": {"field": "gx", "type": "quantitative", "scale": {"domain": [0,10], "range": [48,1235], "nice": false, "zero": false}, "axis": null},
  "y": {"field": "gy", "type": "quantitative", "scale": {"domain": [0,8], "range": [882,210], "nice": false, "zero": false}, "axis": null}, "text": {"field": "s"}}},
{"data": {"values": [{"s":"Stop","gx":9.115,"gy":10.226}]},
 "mark": {"type": "text", "color": "#FF1E1E", "font": "Liberation Sans", "fontWeight": "bold", "fontSize": 23, "align": "center", "baseline": "middle"},
 "encoding": {"x": {"field": "gx", "type": "quantitative", "scale": {"domain": [0,10], "range": [48,1235], "nice": false, "zero": false}, "axis": null},
  "y": {"field": "gy", "type": "quantitative", "scale": {"domain": [0,8], "range": [882,210], "nice": false, "zero": false}, "axis": null}, "text": {"field": "s"}}}
]
}
